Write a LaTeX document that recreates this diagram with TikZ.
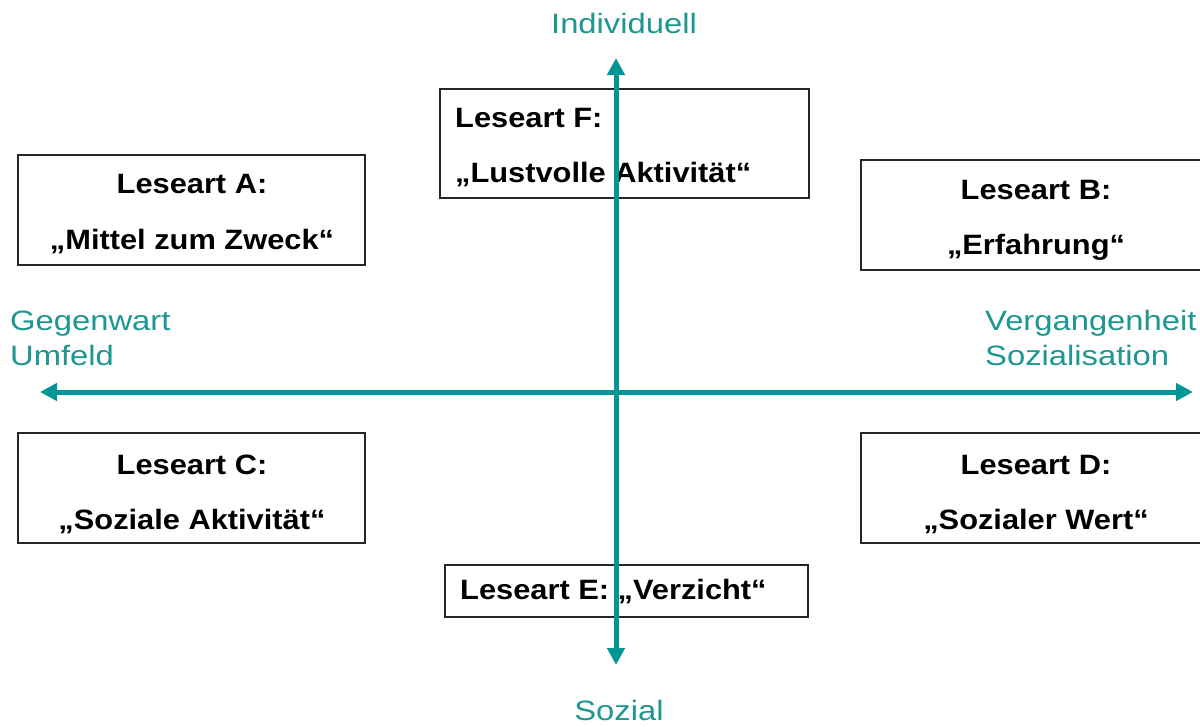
\documentclass[tikz,border=0pt]{standalone}
\usepackage{fontspec}
\setmainfont{Liberation Sans}
\newfontfamily\lblfont{Liberation Sans}[FakeStretch=1.17]
\newfontfamily\boxfont{Liberation Sans}[FakeStretch=1.1]
\usetikzlibrary{arrows.meta}
\definecolor{axisteal}{RGB}{0,150,150}
\definecolor{labelteal}{RGB}{30,150,145}
\tikzset{
  frame/.style={draw=black!85, line width=1.2pt, fill=white, rectangle, inner sep=0pt},
  boxtext/.style={font=\boxfont\bfseries\fontsize{28}{34}\selectfont, text=black, inner sep=0pt},
  axislabel/.style={font=\lblfont\fontsize{28}{35}\selectfont, text=labelteal, inner sep=0pt, align=left},
  axisline/.style={draw=axisteal, line width=5pt, {Triangle[width=17pt,length=17pt]}-{Triangle[width=17pt,length=17pt]}}
}
\begin{document}
\begin{tikzpicture}[x=1pt, y=-1pt]
\useasboundingbox (0,0) rectangle (1200,726);
\fill[white] (0,0) rectangle (1200,726);
% boxes
\node[frame, minimum width=347pt, minimum height=110pt] (boxA) at (191.5,210) {};
\node[frame, minimum width=347pt, minimum height=110pt] (boxC) at (191.5,488) {};
\node[frame, minimum width=346pt, minimum height=110pt] (boxB) at (1034,215) {};
\node[frame, minimum width=346pt, minimum height=110pt] (boxD) at (1034,488) {};
\node[frame, minimum width=369pt, minimum height=109pt] (boxF) at (624.5,143.5) {};
\node[frame, minimum width=363pt, minimum height=52pt] (boxE) at (626.5,591) {};
% box texts
\node[boxtext] (tA1) at (192,184) {Leseart A:};
\node[boxtext] (tA2) at (192,242) {„Mittel zum Zweck“};
\node[boxtext] (tC1) at (192,465) {Leseart C:};
\node[boxtext] (tC2) at (192,522) {„Soziale Aktivität“};
\node[boxtext] (tB1) at (1036,190) {Leseart B:};
\node[boxtext] (tB2) at (1036,247) {„Erfahrung“};
\node[boxtext] (tD1) at (1036,465) {Leseart D:};
\node[boxtext] (tD2) at (1036,522) {„Sozialer Wert“};
\node[boxtext, anchor=west] (tF1) at (455,118) {Leseart F:};
\node[boxtext, anchor=west] (tF2) at (455,175) {„Lustvolle Aktivität“};
\node[boxtext, anchor=west] (tE) at (460,592) {Leseart E: „Verzicht“};
% axes
\coordinate (vtop) at (616,58);
\coordinate (vbot) at (616,665);
\coordinate (hleft) at (40,392);
\coordinate (hright) at (1193,392);
\draw[axisline] (vbot) -- (vtop);
\draw[axisline] (hleft) -- (hright);
% axis labels
\node[axislabel] (lInd) at (624,23) {Individuell};
\node[axislabel] (lSoz) at (619,710) {Sozial};
\node[axislabel, anchor=base west] (lGeg) at (10,365) {Gegenwart\\Umfeld};
\node[axislabel, anchor=base west] (lVer) at (985,365) {Vergangenheit\\Sozialisation};
\end{tikzpicture}
\end{document}
